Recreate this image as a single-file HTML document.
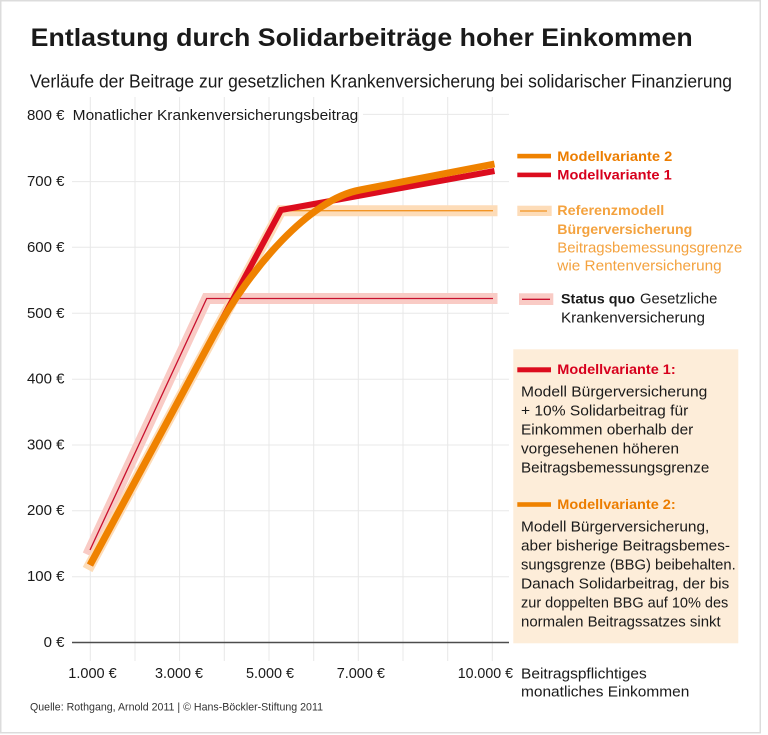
<!DOCTYPE html>
<html><head><meta charset="utf-8"><style>
html,body{margin:0;padding:0;background:#fff;}
svg{display:block;}
text{font-family:"Liberation Sans",Arial,sans-serif;}
</style></head><body>
<svg width="768" height="735" viewBox="0 0 768 735" xmlns="http://www.w3.org/2000/svg">
<rect x="0" y="0" width="768" height="735" fill="#fff"/>
<rect x="0.75" y="0.75" width="759.5" height="732" fill="none" stroke="#dcdcdc" stroke-width="1.5"/>

<text x="30.7" y="46" font-size="25" font-weight="bold" fill="#1a1a1a" textLength="662" lengthAdjust="spacingAndGlyphs">Entlastung durch Solidarbeiträge hoher Einkommen</text>
<text x="30" y="87.3" font-size="18" fill="#1a1a1a" textLength="702" lengthAdjust="spacingAndGlyphs">Verläufe der Beitrage zur gesetzlichen Krankenversicherung bei solidarischer Finanzierung</text>

<g stroke="#e8e8e8" stroke-width="1">
<line x1="90.3" y1="97" x2="90.3" y2="661"/>
<line x1="135" y1="97" x2="135" y2="661"/>
<line x1="179.6" y1="97" x2="179.6" y2="661"/>
<line x1="224.3" y1="97" x2="224.3" y2="661"/>
<line x1="269" y1="97" x2="269" y2="661"/>
<line x1="313.7" y1="97" x2="313.7" y2="661"/>
<line x1="358.3" y1="97" x2="358.3" y2="661"/>
<line x1="403" y1="97" x2="403" y2="661"/>
<line x1="447.7" y1="97" x2="447.7" y2="661"/>
<line x1="492.3" y1="97" x2="492.3" y2="661"/>
<line x1="363" y1="114.4" x2="509" y2="114.4"/>
<line x1="72" y1="181.6" x2="509" y2="181.6"/>
<line x1="72" y1="247.3" x2="509" y2="247.3"/>
<line x1="72" y1="313.3" x2="509" y2="313.3"/>
<line x1="72" y1="379.2" x2="509" y2="379.2"/>
<line x1="72" y1="445" x2="509" y2="445"/>
<line x1="72" y1="510.7" x2="509" y2="510.7"/>
<line x1="72" y1="576.7" x2="509" y2="576.7"/>
</g>
<line x1="72" y1="642.5" x2="509" y2="642.5" stroke="#4d4d4d" stroke-width="1.6"/>

<g font-size="15" fill="#1a1a1a" text-anchor="end">
<text x="64.5" y="120">800 €</text>
<text x="64.5" y="186">700 €</text>
<text x="64.5" y="251.8">600 €</text>
<text x="64.5" y="317.8">500 €</text>
<text x="64.5" y="383.7">400 €</text>
<text x="64.5" y="449.5">300 €</text>
<text x="64.5" y="515.2">200 €</text>
<text x="64.5" y="581.2">100 €</text>
<text x="64.5" y="647">0 €</text>
</g>
<text x="72.7" y="120" font-size="15" fill="#1a1a1a" textLength="285.6" lengthAdjust="spacingAndGlyphs">Monatlicher Krankenversicherungsbeitrag</text>

<g font-size="15" fill="#1a1a1a">
<text x="68.3" y="678" textLength="48.4" lengthAdjust="spacingAndGlyphs">1.000 €</text>
<text x="155" y="678" textLength="48" lengthAdjust="spacingAndGlyphs">3.000 €</text>
<text x="246" y="678" textLength="48" lengthAdjust="spacingAndGlyphs">5.000 €</text>
<text x="336.7" y="678" textLength="48.3" lengthAdjust="spacingAndGlyphs">7.000 €</text>
<text x="457.7" y="678" textLength="55.3" lengthAdjust="spacingAndGlyphs">10.000 €</text>
<text x="521" y="678.3" textLength="125.7" lengthAdjust="spacingAndGlyphs">Beitragspflichtiges</text>
<text x="521" y="696.7" textLength="168.3" lengthAdjust="spacingAndGlyphs">monatliches Einkommen</text>
</g>
<text x="30" y="710.5" font-size="11" fill="#333" textLength="293" lengthAdjust="spacingAndGlyphs">Quelle: Rothgang, Arnold 2011 | © Hans-Böckler-Stiftung 2011</text>

<!-- halos -->
<path d="M87.8,554.8 L206.7,298.5 L497.5,298.5" fill="none" stroke="#f9cbc5" stroke-width="11" stroke-linejoin="miter"/>
<path d="M87.6,569.5 L281,210.7 L497.5,210.7" fill="none" stroke="#fddcb8" stroke-width="11" stroke-linejoin="miter"/>
<!-- thin lines -->
<path d="M90,550 L206.7,298.5 L493,298.5" fill="none" stroke="#c8102e" stroke-width="1.3"/>
<path d="M90,565 L281,210.7 L493,210.7" fill="none" stroke="#f29423" stroke-width="1.3"/>
<!-- Modellvariante 1 -->
<path d="M90,565 L281,210 L494.5,171" fill="none" stroke="#dc0d1e" stroke-width="6" stroke-linejoin="miter"/>
<!-- Modellvariante 2 -->
<path d="M90,565 L215,333 C250,268 310,199 360,190 L494.5,164" fill="none" stroke="#ef8200" stroke-width="7"/>

<!-- legend top -->
<rect x="517.3" y="153.8" width="33.7" height="4.6" fill="#ef8200"/>
<text x="557.3" y="161" font-size="14" font-weight="bold" fill="#ec7d00" textLength="115" lengthAdjust="spacingAndGlyphs">Modellvariante 2</text>
<rect x="517.3" y="172.6" width="33.7" height="4.6" fill="#dc0d1e"/>
<text x="557.3" y="179.3" font-size="14" font-weight="bold" fill="#d7001d" textLength="114.4" lengthAdjust="spacingAndGlyphs">Modellvariante 1</text>

<rect x="517.3" y="205.7" width="34.4" height="10.3" fill="#fddcb8"/>
<line x1="520" y1="211" x2="547" y2="211" stroke="#f29423" stroke-width="1.3"/>
<g fill="#f4a23e" font-size="14">
<text x="557.3" y="215" font-weight="bold" textLength="107" lengthAdjust="spacingAndGlyphs">Referenzmodell</text>
<text x="557.3" y="234" font-weight="bold" textLength="135" lengthAdjust="spacingAndGlyphs">Bürgerversicherung</text>
<text x="557.3" y="252.7" font-size="15" textLength="185" lengthAdjust="spacingAndGlyphs">Beitragsbemessungsgrenze</text>
<text x="557.3" y="270.7" font-size="15" textLength="164.4" lengthAdjust="spacingAndGlyphs">wie Rentenversicherung</text>
</g>

<rect x="519" y="293.3" width="34.3" height="11.7" fill="#f9cbc5"/>
<line x1="522" y1="299.3" x2="550" y2="299.3" stroke="#c8102e" stroke-width="1.3"/>
<text x="561" y="303.3" font-size="14" font-weight="bold" fill="#1a1a1a" textLength="74" lengthAdjust="spacingAndGlyphs">Status quo</text>
<text x="640" y="303.3" font-size="15" fill="#1a1a1a" textLength="77.3" lengthAdjust="spacingAndGlyphs">Gesetzliche</text>
<text x="561" y="322.7" font-size="15" fill="#1a1a1a" textLength="144" lengthAdjust="spacingAndGlyphs">Krankenversicherung</text>

<!-- box -->
<rect x="513.3" y="349.3" width="225" height="294" fill="#fdedd9"/>
<rect x="517.3" y="367.3" width="33.7" height="5" fill="#dc0d1e"/>
<text x="557.3" y="374" font-size="14" font-weight="bold" fill="#d7001d" textLength="118.4" lengthAdjust="spacingAndGlyphs">Modellvariante 1:</text>
<g font-size="15" fill="#1a1a1a">
<text x="521" y="396.7" textLength="186.3" lengthAdjust="spacingAndGlyphs">Modell Bürgerversicherung</text>
<text x="521" y="415.7" textLength="167.3" lengthAdjust="spacingAndGlyphs">+ 10% Solidarbeitrag für</text>
<text x="521" y="434.7" textLength="172.3" lengthAdjust="spacingAndGlyphs">Einkommen oberhalb der</text>
<text x="521" y="453.7" textLength="158" lengthAdjust="spacingAndGlyphs">vorgesehenen höheren</text>
<text x="521" y="472.7" textLength="188.3" lengthAdjust="spacingAndGlyphs">Beitragsbemessungsgrenze</text>
</g>
<rect x="517.3" y="502.2" width="33.7" height="4.6" fill="#ef8200"/>
<text x="557.3" y="509" font-size="14" font-weight="bold" fill="#ec7d00" textLength="118.4" lengthAdjust="spacingAndGlyphs">Modellvariante 2:</text>
<g font-size="15" fill="#1a1a1a">
<text x="521" y="531.7" textLength="188.3" lengthAdjust="spacingAndGlyphs">Modell Bürgerversicherung,</text>
<text x="521" y="550.7" textLength="209" lengthAdjust="spacingAndGlyphs">aber bisherige Beitragsbemes-</text>
<text x="521" y="569.7" textLength="214.7" lengthAdjust="spacingAndGlyphs">sungsgrenze (BBG) beibehalten.</text>
<text x="521" y="588.7" textLength="208.3" lengthAdjust="spacingAndGlyphs">Danach Solidarbeitrag, der bis</text>
<text x="521" y="607.7" textLength="207.3" lengthAdjust="spacingAndGlyphs">zur doppelten BBG auf 10% des</text>
<text x="521" y="626.7" textLength="199.7" lengthAdjust="spacingAndGlyphs">normalen Beitragssatzes sinkt</text>
</g>
</svg>
</body></html>
